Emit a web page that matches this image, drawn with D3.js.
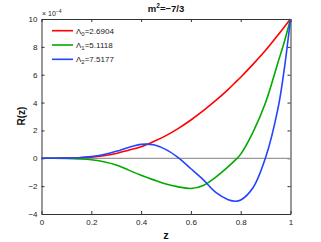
<!DOCTYPE html>
<html>
<head>
<meta charset="utf-8">
<script src="https://cdn.jsdelivr.net/npm/d3@7"></script>
<style>
  body { margin: 0; background: #fff; }
  svg { display: block; font-family: Helvetica, "Liberation Sans", Arial, sans-serif; }
  .axis text { font-size: 8px; fill: #222; }
  .axis line, .axis path { stroke: #333; }
</style>
</head>
<body>
<svg id="chart" width="321" height="242"></svg>
<script>
// sample points along z, values in units of 1e-4
const zs = [0, 0.05, 0.1, 0.15, 0.2, 0.25, 0.3, 0.35, 0.4, 0.45, 0.5, 0.55, 0.6, 0.65, 0.7, 0.75, 0.78, 0.8, 0.85, 0.9, 0.95, 0.975, 1]
const red = [0, 0, 0.01, 0.04, 0.08, 0.18, 0.35, 0.58, 0.83, 1.2, 1.63, 2.15, 2.75, 3.42, 4.15, 4.95, 5.47, 5.82, 6.76, 7.75, 8.85, 9.42, 10]
const green = [0, 0, -0.01, -0.04, -0.1, -0.25, -0.48, -0.85, -1.22, -1.55, -1.85, -2.05, -2.17, -1.95, -1.35, -0.6, -0.1, 0.3, 1.9, 4.0, 6.9, 8.35, 10]
const blue = [0, 0, 0.01, 0.04, 0.12, 0.27, 0.5, 0.78, 1.0, 0.97, 0.62, 0.03, -0.75, -1.55, -2.45, -2.97, -3.08, -3.0, -2.1, 0.05, 3.6, 6.4, 10]
const legendLabels = [['0', '2.6904'], ['1', '5.1118'], ['2', '7.5177']]
const colors = ['#ff0000', '#00aa00', '#2244ff']
const xTicks = [0, 0.2, 0.4, 0.6, 0.8, 1]
const yTicks = [-4, -2, 0, 2, 4, 6, 8, 10]

const svg = d3.select('#chart')
const margin = { left: 41.5, right: 290.5, top: 19, bottom: 214 }

const x = d3.scaleLinear().domain([0, 1]).range([margin.left, margin.right])
const y = d3.scaleLinear().domain([-4, 10]).range([margin.bottom, margin.top])

// axes, MATLAB style ticks pointing inward
svg.append('g').attr('class', 'axis')
  .attr('transform', `translate(0,${margin.bottom})`)
  .call(d3.axisBottom(x).tickValues(xTicks).tickSizeInner(-3).tickSizeOuter(0).tickPadding(5).tickFormat(d3.format('')))
svg.append('g').attr('class', 'axis')
  .attr('transform', `translate(0,${margin.top})`)
  .call(d3.axisTop(x).tickValues(xTicks).tickSizeInner(-3).tickSizeOuter(0).tickFormat(''))
svg.append('g').attr('class', 'axis')
  .attr('transform', `translate(${margin.left},0)`)
  .call(d3.axisLeft(y).tickValues(yTicks).tickSizeInner(-3).tickSizeOuter(0).tickPadding(4))
svg.append('g').attr('class', 'axis')
  .attr('transform', `translate(${margin.right},0)`)
  .call(d3.axisRight(y).tickValues(yTicks).tickSizeInner(-3).tickSizeOuter(0).tickFormat(''))

// zero line
svg.append('line')
  .attr('x1', x(0)).attr('x2', x(1))
  .attr('y1', y(0)).attr('y2', y(0))
  .attr('stroke', '#999').attr('stroke-width', 1.2)

const line = d3.line().x((d, i) => x(zs[i])).y(d => y(d)).curve(d3.curveCatmullRom)
;[red, green, blue].forEach((s, i) => {
  svg.append('path').datum(s)
    .attr('d', line)
    .attr('fill', 'none')
    .attr('stroke', colors[i])
    .attr('stroke-width', 1.6)
})

// legend
const leg = svg.append('g')
legendLabels.forEach((l, i) => {
  const ly = 30.7 + i * 14.3
  leg.append('line').attr('x1', 52).attr('x2', 73).attr('y1', ly).attr('y2', ly)
    .attr('stroke', colors[i]).attr('stroke-width', 1.6)
  const t = leg.append('text').attr('x', 76).attr('y', ly + 3).attr('font-size', 8).attr('fill', '#222')
  t.append('tspan').text('Λ')
  t.append('tspan').attr('font-size', 6).attr('dy', 2).text(l[0])
  t.append('tspan').attr('dy', -2).text('=' + l[1])
})

// exponent label
const ex = svg.append('text').attr('x', 42).attr('y', 16).attr('font-size', 7).attr('fill', '#222')
ex.append('tspan').text('× 10')
ex.append('tspan').attr('font-size', 5).attr('dy', -3).text('−4')

// title
const title = svg.append('text').attr('x', 166).attr('y', 11.5).attr('text-anchor', 'middle')
  .attr('font-size', 9.5).attr('font-weight', 'bold').attr('fill', '#111')
title.append('tspan').text('m')
title.append('tspan').attr('font-size', 6.5).attr('dy', -3.5).text('2')
title.append('tspan').attr('dy', 3.5).text('=−7/3')

// axis titles
svg.append('text').attr('x', 166).attr('y', 239).attr('text-anchor', 'middle')
  .attr('font-size', 11).attr('font-weight', 'bold').attr('fill', '#111').text('z')
svg.append('text').attr('transform', 'translate(25,116) rotate(-90)').attr('text-anchor', 'middle')
  .attr('font-size', 10).attr('font-weight', 'bold').attr('fill', '#111').text('R(z)')
</script>
</body>
</html>
